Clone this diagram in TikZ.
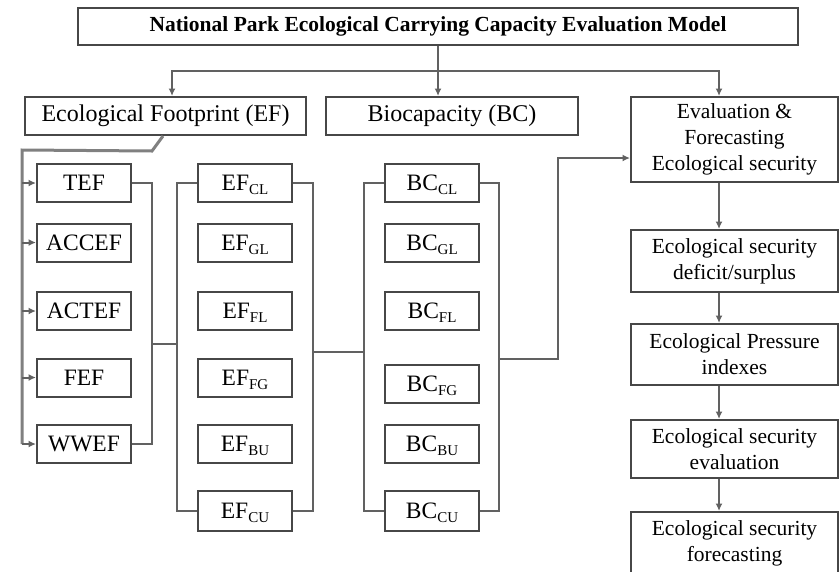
\documentclass[tikz,border=0pt]{standalone}
\usepackage{fontspec}
\setmainfont{Liberation Serif}
\usetikzlibrary{arrows.meta,calc}
\newcommand{\sbx}[1]{\raisebox{-4pt}[0pt][0pt]{\fontsize{15}{15}\selectfont #1}}
\tikzset{
  box/.style={draw=black!72, line width=2pt, minimum height=38pt, inner sep=0pt, fill=white, font=\fontsize{23.5}{26}\selectfont},
  small/.style={box, minimum width=94pt},
  rbox/.style={draw=black!72, line width=2pt, minimum width=207pt, align=center, inner sep=0pt, fill=white, font=\fontsize{21.5}{26}\selectfont},
  con/.style={draw=black!62, line width=2pt},
  spinestyle/.style={draw=black!50, line width=3pt},
  arr/.style={con, -{Latex[length=7.5pt,width=7pt]}},
}
\begin{document}
\begin{tikzpicture}[x=1pt,y=-1pt]
\useasboundingbox (0,0) rectangle (840,571);
% top level
\node[box, minimum width=720pt, minimum height=37pt, font=\bfseries\fontsize{21.5}{26}\selectfont] (title) at (438,26.5) {National Park Ecological Carrying Capacity Evaluation Model};
\node[box, minimum width=281pt, font=\fontsize{24}{26}\selectfont] (EF) at (165.5,116) {Ecological Footprint (EF)};
\node[box, minimum width=252pt, font=\fontsize{24}{26}\selectfont] (BC) at (452,116) {Biocapacity (BC)};
\node[rbox, minimum height=85pt] (Eval) at (734.5,139.5) {Evaluation \&\\Forecasting\\Ecological security};
% left column
\node[small] (TEF) at (84,183) {TEF};
\node[small] (ACCEF) at (84,242.5) {ACCEF};
\node[small] (ACTEF) at (84,311) {ACTEF};
\node[small] (FEF) at (84,377.5) {FEF};
\node[small] (WWEF) at (84,444) {WWEF};
% EF column
\node[small] (EFCL) at (245,183) {EF\sbx{CL}};
\node[small] (EFGL) at (245,242.5) {EF\sbx{GL}};
\node[small] (EFFL) at (245,311) {EF\sbx{FL}};
\node[small] (EFFG) at (245,377.5) {EF\sbx{FG}};
\node[small] (EFBU) at (245,444) {EF\sbx{BU}};
\node[small, minimum height=40pt] (EFCU) at (245,510.5) {EF\sbx{CU}};
% BC column
\node[small] (BCCL) at (432,183) {BC\sbx{CL}};
\node[small] (BCGL) at (432,242.5) {BC\sbx{GL}};
\node[small] (BCFL) at (432,311) {BC\sbx{FL}};
\node[small] (BCFG) at (432,383.5) {BC\sbx{FG}};
\node[small] (BCBU) at (432,444) {BC\sbx{BU}};
\node[small, minimum height=40pt] (BCCU) at (432,510.5) {BC\sbx{CU}};
% right column
\node[rbox, minimum height=62pt] (Def) at (734.5,261) {Ecological security\\deficit/surplus};
\node[rbox, minimum height=61pt] (Press) at (734.5,354.5) {Ecological Pressure\\indexes};
\node[rbox, minimum height=58pt] (SecEval) at (734.5,449) {Ecological security\\evaluation};
\node[rbox, minimum height=63pt] (Fore) at (734.5,543.5) {Ecological security\\forecasting};
% title connectors
\coordinate (bar) at (439,71);
\draw[arr] (title.south) -- (title.south |- BC.north);
\draw[arr] (bar) -| ([xshift=6.5pt]EF.north);
\draw[arr] (bar) -| ([xshift=-15.5pt]Eval.north);
% EF to left column
\coordinate (spine) at (22,150);
\draw[spinestyle] ([xshift=-2.5pt]EF.south) -- ++(-11,15) -- (spine) -- (spine |- WWEF.west);
\draw[arr] (spine |- WWEF.west) -- (WWEF.west);
\foreach \n in {TEF,ACCEF,ACTEF,FEF} \draw[arr] (spine |- \n.west) -- (\n.west);
% left column bracket to EF column bracket
\draw[con] (TEF.east) -- ++(20,0) coordinate (lb) |- (WWEF.east);
\coordinate (m1) at ($(ACTEF)!0.5!(FEF)$);
\draw[con] (EFCL.west) -- ++(-20,0) coordinate (eb) |- (EFCU.west);
\draw[con] (lb |- m1) -- (eb |- m1);
% EF column to BC column
\draw[con] (EFCL.east) -- ++(20,0) coordinate (er) |- (EFCU.east);
\draw[con] (BCCL.west) -- ++(-20,0) coordinate (bl) |- (BCCU.west);
\coordinate (m2) at (0,352);
\draw[con] (er |- m2) -- (bl |- m2);
% BC column to evaluation
\draw[con] (BCCL.east) -- ++(19,0) coordinate (br) |- (BCCU.east);
\coordinate (m3) at (558,359);
\draw[arr] (br |- m3) -- (m3) |- ([yshift=-18.5pt]Eval.west);
% right column chain
\draw[arr] ([xshift=-15.5pt]Eval.south) -- ([xshift=-15.5pt]Def.north);
\draw[arr] ([xshift=-15.5pt]Def.south) -- ([xshift=-15.5pt]Press.north);
\draw[arr] ([xshift=-15.5pt]Press.south) -- ([xshift=-15.5pt]SecEval.north);
\draw[arr] ([xshift=-15.5pt]SecEval.south) -- ([xshift=-15.5pt]Fore.north);
\end{tikzpicture}
\end{document}
